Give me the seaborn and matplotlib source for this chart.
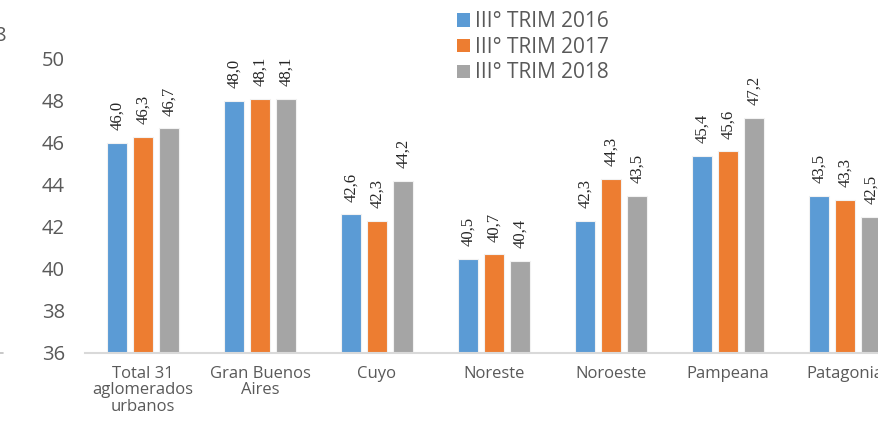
import matplotlib
matplotlib.use("Agg")
import matplotlib.pyplot as plt
import seaborn as sns
import pandas as pd
from matplotlib.lines import Line2D
from matplotlib.patches import Patch

categories = ["Total 31\naglomerados\nurbanos", "Gran Buenos\nAires", "Cuyo", "Noreste",
              "Noroeste", "Pampeana", "Patagonia"]
series_names = ["III° TRIM 2016", "III° TRIM 2017", "III° TRIM 2018"]
vals_2016 = [46.0, 48.0, 42.6, 40.5, 42.3, 45.4, 43.5]
vals_2017 = [46.3, 48.1, 42.3, 40.7, 44.3, 45.6, 43.3]
vals_2018 = [46.7, 48.1, 44.2, 40.4, 43.5, 47.2, 42.5]
colors = ["#5B9BD5", "#ED7D31", "#A5A5A5"]
yticks = [36, 38, 40, 42, 44, 46, 48, 50]

rows = []
for name, vals in zip(series_names, [vals_2016, vals_2017, vals_2018]):
    for c, v in zip(categories, vals):
        rows.append({"cat": c, "serie": name, "val": v})
df = pd.DataFrame(rows)

sns.set_theme(style="white")
plt.rcParams["font.family"] = ["Open Sans", "DejaVu Sans"]

fig = plt.figure(figsize=(8.79, 4.21), dpi=100)
ax = fig.add_axes([84.5 / 879, 68 / 421, 819 / 879, 294 / 421])

sns.barplot(data=df, x="cat", y="val", hue="serie", palette=colors, order=categories,
            hue_order=series_names, width=0.667, gap=0.23, edgecolor="#F2F2F2", linewidth=0.8,
            saturation=1, ax=ax, legend=False, errorbar=None)

ax.set_ylim(36, 50)
ax.set_xlim(-0.5, len(categories) - 0.5)
ax.set_yticks(yticks)
ax.set_yticklabels([str(t) for t in yticks])
ax.set_xlabel("")
ax.set_ylabel("")
for s in ["top", "right", "left"]:
    ax.spines[s].set_visible(False)
ax.spines["bottom"].set_color("#D9D9D9")
ax.spines["bottom"].set_linewidth(1.5)
ax.tick_params(axis="y", length=0, pad=14, labelsize=14.5, labelcolor="#595959")
ax.tick_params(axis="x", length=0, pad=9, labelsize=12, labelcolor="#595959")
for lab in ax.get_xticklabels():
    lab.set_linespacing(1.05)

for cont, vals in zip(ax.containers, [vals_2016, vals_2017, vals_2018]):
    ax.bar_label(cont, labels=[f"{v:.1f}".replace(".", ",") for v in vals], rotation=90,
                 padding=9, fontsize=12, family="Liberation Serif", color="#262626")

handles = [Patch(facecolor=c, edgecolor="none") for c in colors]
fig.legend(handles, series_names, loc="upper left", bbox_to_anchor=(449 / 879, 1 - 3 / 421),
           frameon=False, fontsize=15, handlelength=0.6, handleheight=0.6,
           handletextpad=0.25, labelspacing=0.22, borderaxespad=0, labelcolor="#595959")

fig.text(-0.006, 1 - 36 / 421, "8", fontsize=14.5, color="#595959", va="center", ha="left")
fig.add_artist(Line2D([0, 3 / 879], [68 / 421, 68 / 421], color="#BFBFBF", lw=1.2))

fig.savefig("out.png", dpi=100)
